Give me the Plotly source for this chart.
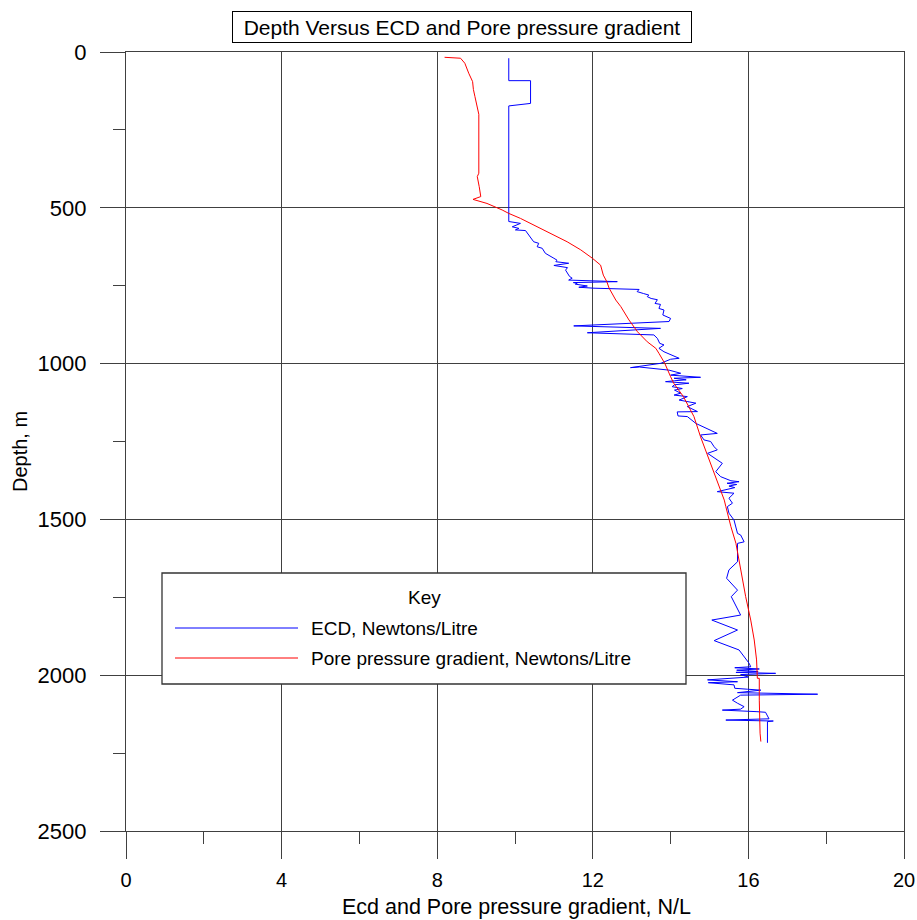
import plotly.graph_objects as go

# ECD log (depth in m, gradient in N/L), listed in the order the log is drawn
ecd_depth = [20, 92, 92, 165, 173, 544, 550, 561, 566, 571, 573, 587, 593, 609, 614, 625, 630, 646,
             662, 668, 673, 678, 685, 692, 700, 710, 720, 726, 732, 737, 740, 742, 745, 748, 751, 755,
             758, 762, 769, 775, 780, 785, 791, 795, 807, 810, 823, 828, 844, 855, 865, 879, 887, 901,
             908, 919, 935, 940, 951, 962, 983, 986, 999, 1013, 1011, 1021, 1031, 1037, 1044, 1047,
             1052, 1055, 1058, 1063, 1068, 1074, 1080, 1085, 1095, 1101, 1106, 1117, 1127, 1138, 1154,
             1155, 1168, 1170, 1192, 1224, 1229, 1245, 1250, 1267, 1277, 1288, 1320, 1347, 1363, 1376,
             1379, 1384, 1388, 1393, 1398, 1411, 1416, 1432, 1448, 1459, 1480, 1502, 1523, 1545, 1550,
             1572, 1577, 1636, 1662, 1689, 1727, 1748, 1807, 1823, 1855, 1889, 1919, 1962, 1973, 1976,
             1980, 1984, 1988, 1991, 1994, 1998, 2006, 2015, 2021, 2024, 2031, 2042, 2045, 2048, 2056,
             2061, 2064, 2080, 2090, 2101, 2109, 2112, 2117, 2119, 2140, 2144, 2147, 2149, 2217]
ecd_value = [9.84, 9.84, 10.40, 10.40, 9.84, 9.84, 10.14, 9.93, 10.10, 10.01, 10.27, 10.35, 10.40,
             10.48, 10.61, 10.57, 10.70, 10.78, 11.00, 11.08, 11.05, 11.38, 11.00, 11.35, 11.30, 11.34,
             11.40, 11.47, 11.38, 12.63, 11.50, 11.60, 11.55, 11.69, 11.86, 11.64, 12.03, 13.19, 13.14,
             13.30, 13.44, 13.40, 13.50, 13.66, 13.60, 13.74, 13.70, 13.83, 13.80, 14.00, 13.96, 11.51,
             13.74, 11.86, 13.57, 13.66, 13.72, 13.83, 13.70, 13.83, 14.22, 14.00, 13.75, 12.97, 13.20,
             13.96, 14.26, 14.00, 14.77, 14.09, 14.40, 14.10, 13.87, 14.47, 14.10, 14.04, 14.30, 14.10,
             14.26, 14.09, 14.43, 14.22, 14.65, 14.43, 14.69, 14.17, 14.19, 14.43, 14.65, 15.20, 14.77,
             14.86, 15.03, 15.12, 15.20, 14.95, 15.33, 15.16, 15.29, 15.55, 15.76, 15.45, 15.70, 15.50,
             15.65, 15.20, 15.63, 15.50, 15.59, 15.46, 15.50, 15.63, 15.68, 15.72, 15.80, 15.89, 15.72,
             15.72, 15.50, 15.44, 15.72, 15.56, 15.80, 15.06, 15.72, 15.12, 15.76, 16.02, 16.06, 15.65,
             16.28, 15.70, 16.25, 15.68, 16.70, 15.80, 16.00, 14.95, 15.72, 14.97, 15.63, 15.65, 15.98,
             16.32, 15.72, 17.78, 15.80, 15.59, 15.72, 15.89, 15.80, 15.33, 16.22, 16.44, 16.53, 15.42,
             16.64, 16.49, 16.49]

# Pore pressure gradient log (depth in m, gradient in N/L)
pp_depth = [17, 20, 36, 50, 68, 95, 120, 143, 186, 200, 389, 400, 432, 464, 473, 486, 507, 518, 534,
            577, 609, 635, 662, 684, 716, 737, 758, 796, 817, 860, 898, 930, 951, 967, 999, 1042, 1063,
            1106, 1170, 1235, 1293, 1352, 1406, 1438, 1459, 1502, 1523, 1577, 1662, 1748, 1823, 1887,
            1951, 2010, 2010, 2080, 2186, 2213]
pp_value = [8.19, 8.60, 8.71, 8.75, 8.81, 8.91, 8.93, 8.97, 9.04, 9.07, 9.07, 9.03, 9.08, 9.12, 8.92,
            9.28, 9.67, 9.84, 10.14, 10.83, 11.34, 11.69, 11.99, 12.20, 12.27, 12.36, 12.42, 12.59,
            12.72, 12.93, 13.15, 13.40, 13.62, 13.70, 13.85, 14.00, 14.08, 14.33, 14.60, 14.77, 14.95,
            15.12, 15.29, 15.38, 15.42, 15.50, 15.55, 15.68, 15.80, 15.93, 16.06, 16.15, 16.21, 16.23,
            16.28, 16.28, 16.30, 16.32]

x_ticks = [0, 4, 8, 12, 16, 20]
y_ticks = [0, 500, 1000, 1500, 2000, 2500]

series_names = ["ECD, Newtons/Litre", "Pore pressure gradient, Newtons/Litre"]
series_colors = ["#0000ff", "#ff0000"]

FONT = "Liberation Sans, Arial, sans-serif"
GRID = "#404040"

fig = go.Figure()
fig.add_trace(go.Scatter(x=ecd_value, y=ecd_depth, mode="lines", name=series_names[0],
                         line=dict(color=series_colors[0], width=1), showlegend=False))
fig.add_trace(go.Scatter(x=pp_value, y=pp_depth, mode="lines", name=series_names[1],
                         line=dict(color=series_colors[1], width=1), showlegend=False))

fig.update_layout(
    width=917, height=920,
    margin=dict(l=126, r=13, t=52, b=89, autoexpand=False),
    paper_bgcolor="white", plot_bgcolor="white",
    font=dict(family=FONT, color="black", size=20),
)

fig.update_xaxes(
    range=[0, 20], tickvals=x_ticks, ticktext=[str(v) for v in x_ticks],
    showgrid=True, gridcolor=GRID, gridwidth=1.3, zeroline=False,
    showline=True, linecolor=GRID, linewidth=1.3, mirror=True,
    ticks="outside", ticklen=27, tickcolor=GRID, tickwidth=1.3,
    minor=dict(dtick=2, ticks="outside", ticklen=12, tickcolor=GRID, tickwidth=1.3, showgrid=False),
    tickfont=dict(family=FONT, size=20), ticklabelstandoff=4,
)
fig.update_yaxes(
    range=[2500, 0], tickvals=y_ticks, ticktext=[str(v) for v in y_ticks],
    showgrid=True, gridcolor=GRID, gridwidth=1.3, zeroline=False,
    showline=True, linecolor=GRID, linewidth=1.3, mirror=True,
    ticks="outside", ticklen=25, tickcolor=GRID, tickwidth=1.3,
    minor=dict(dtick=250, ticks="outside", ticklen=12, tickcolor=GRID, tickwidth=1.3, showgrid=False),
    tickfont=dict(family=FONT, size=22), ticklabelstandoff=9,
)

# plot area in pixels: x 126..904, y 52..831
def px(xp):
    return (xp - 126) / 778.0

def py(yp):
    return (831 - yp) / 779.0

annotations = [
    dict(text="Depth Versus ECD and Pore pressure gradient", x=px(462), y=py(27),
         xref="paper", yref="paper", xanchor="center", yanchor="middle", showarrow=False,
         font=dict(family=FONT, size=21), bordercolor="black", borderwidth=1,
         borderpad=3, bgcolor="white", width=452, height=24),
    dict(text="Ecd and Pore pressure gradient, N/L", x=px(516), y=py(907),
         xref="paper", yref="paper", xanchor="center", yanchor="middle", showarrow=False,
         font=dict(family=FONT, size=21.5)),
    dict(text="Depth, m", x=px(20), y=py(452), textangle=-90,
         xref="paper", yref="paper", xanchor="center", yanchor="middle", showarrow=False,
         font=dict(family=FONT, size=20)),
    dict(text="Key", x=px(424), y=py(597),
         xref="paper", yref="paper", xanchor="center", yanchor="middle", showarrow=False,
         font=dict(family=FONT, size=19)),
]
shapes = [
    dict(type="rect", xref="paper", yref="paper", x0=px(162), x1=px(686), y0=py(684), y1=py(573),
         line=dict(color="#333333", width=1.3), fillcolor="white", layer="above"),
]
key_rows = [628, 658]
for name, color, yrow in zip(series_names, series_colors, key_rows):
    shapes.append(dict(type="line", xref="paper", yref="paper", x0=px(175), x1=px(298),
                       y0=py(yrow), y1=py(yrow), line=dict(color=color, width=1), layer="above"))
    annotations.append(dict(text=name, x=px(309), y=py(yrow), xref="paper", yref="paper",
                            xanchor="left", yanchor="middle", showarrow=False,
                            font=dict(family=FONT, size=19)))

fig.update_layout(annotations=annotations, shapes=shapes)

fig.write_html("out.html")
